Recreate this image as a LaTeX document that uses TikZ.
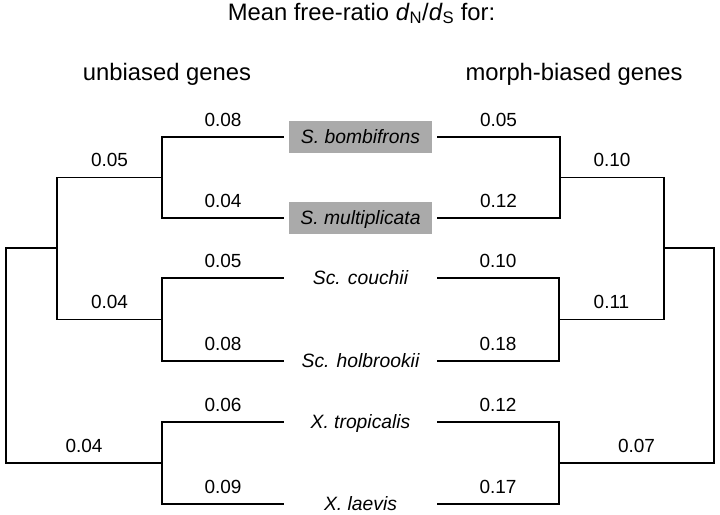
\documentclass[tikz,border=0pt]{standalone}
\usepackage{fontspec}
\setmainfont{Liberation Sans}
\usetikzlibrary{positioning}
\definecolor{hl}{RGB}{170,170,170}

\begin{document}
\begin{tikzpicture}[x=1pt,y=-1pt,font=\fontsize{19}{22}\selectfont,
  sp/.style={minimum width=143pt,minimum height=32pt,inner sep=0pt,outer sep=5pt,
    text height=13.6pt,text depth=0pt,font=\fontsize{19.3}{22}\selectfont\itshape},
  hd/.style={anchor=base,inner sep=0pt,font=\fontsize{23.8}{26}\selectfont},
  lab/.style={above=10pt,inner sep=0pt},
  br/.style={line width=1.6pt}]
\useasboundingbox (0,0) rectangle (720,514);
% headings
\node[hd] (ttl) at (361.5,20) {Mean free-ratio \textit{d}\textsubscript{N}/\textit{d}\textsubscript{S} for:};
\node[hd] (hl) at (167,80) {unbiased genes};
\node[hd] (hr) at (574,80) {morph-biased genes};
% species
\node[sp,fill=hl] (sb) at (360.5,137) {S. bombifrons};
\node[sp,fill=hl] (sm) at (360.5,218) {S. multiplicata};
\node[sp] (sc) at (360.5,278) {Sc. couchii};
\node[sp] (sh) at (360.5,361) {Sc. holbrookii};
\node[sp] (xt) at (360.5,422) {X. tropicalis};
\node[sp] (xl) at (360.5,504) {X. laevis};
% inner nodes, unbiased tree
\coordinate (lS) at (162,177.5);
\coordinate (lC) at (162,319.5);
\coordinate (lX) at (162,463);
\coordinate (lA) at (57,248);
\coordinate (lR) at (6,355.5);
% inner nodes, morph-biased tree
\coordinate (rS) at (560,177.5);
\coordinate (rC) at (559,319.5);
\coordinate (rX) at (559,463);
\coordinate (rA) at (664,248);
\coordinate (rR) at (714,355.5);
% unbiased
\draw[br] (lS) |- node[lab,pos=.75]{0.08} (sb);
\draw[br] (lS) |- node[lab,pos=.75]{0.04} (sm);
\draw[br] (lC) |- node[lab,pos=.75]{0.05} (sc);
\draw[br] (lC) |- node[lab,pos=.75]{0.08} (sh);
\draw[br] (lX) |- node[lab,pos=.75]{0.06} (xt);
\draw[br] (lX) |- node[lab,pos=.75]{0.09} (xl);
\draw[br] (lA) |- node[lab,pos=.75]{0.05} (lS);
\draw[br] (lA) |- node[lab,pos=.75]{0.04} (lC);
\draw[br] (lR) |- (lA);
\draw[br] (lR) |- node[lab,pos=.75]{0.04} (lX);
% morph-biased
\draw[br] (rS) |- node[lab,pos=.75]{0.05} (sb);
\draw[br] (rS) |- node[lab,pos=.75]{0.12} (sm);
\draw[br] (rC) |- node[lab,pos=.75]{0.10} (sc);
\draw[br] (rC) |- node[lab,pos=.75]{0.18} (sh);
\draw[br] (rX) |- node[lab,pos=.75]{0.12} (xt);
\draw[br] (rX) |- node[lab,pos=.75]{0.17} (xl);
\draw[br] (rA) |- node[lab,pos=.75]{0.10} (rS);
\draw[br] (rA) |- node[lab,pos=.75]{0.11} (rC);
\draw[br] (rR) |- (rA);
\draw[br] (rR) |- node[lab,pos=.75]{0.07} (rX);
\end{tikzpicture}
\end{document}
